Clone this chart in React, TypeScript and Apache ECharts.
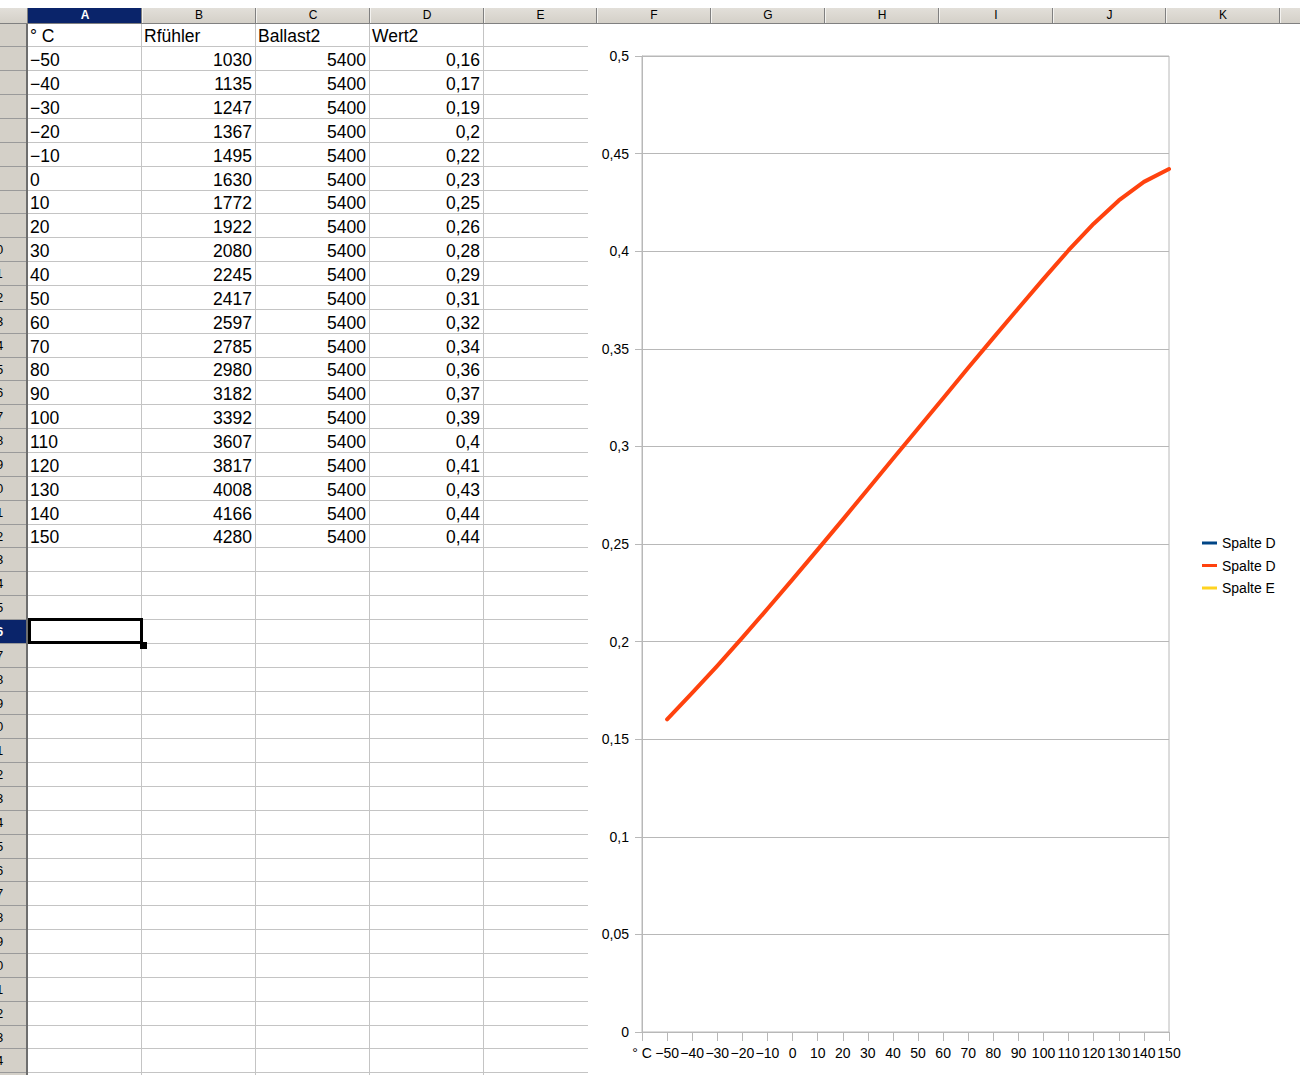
import React, { useEffect, useRef } from "react";
import * as echarts from "echarts";

// ---------- data ----------
const headerRow = ["° C", "Rfühler", "Ballast2", "Wert2"];
const tempLabels = ["−50", "−40", "−30", "−20", "−10", "0", "10", "20", "30", "40", "50", "60", "70", "80", "90", "100", "110", "120", "130", "140", "150"];
const rfuehler = [1030, 1135, 1247, 1367, 1495, 1630, 1772, 1922, 2080, 2245, 2417, 2597, 2785, 2980, 3182, 3392, 3607, 3817, 4008, 4166, 4280];
const ballast2 = [5400, 5400, 5400, 5400, 5400, 5400, 5400, 5400, 5400, 5400, 5400, 5400, 5400, 5400, 5400, 5400, 5400, 5400, 5400, 5400, 5400];
const wert2Text = ["0,16", "0,17", "0,19", "0,2", "0,22", "0,23", "0,25", "0,26", "0,28", "0,29", "0,31", "0,32", "0,34", "0,36", "0,37", "0,39", "0,4", "0,41", "0,43", "0,44", "0,44"];
const wert2Values = [0.1602, 0.1737, 0.1876, 0.202, 0.2168, 0.2319, 0.2471, 0.2625, 0.2781, 0.2937, 0.3092, 0.3247, 0.3403, 0.3556, 0.3708, 0.3858, 0.4005, 0.4141, 0.426, 0.4355, 0.4421];
const xCategories = ["° C", "−50", "−40", "−30", "−20", "−10", "0", "10", "20", "30", "40", "50", "60", "70", "80", "90", "100", "110", "120", "130", "140", "150"];
const lineData = [null, ...wert2Values];
const columnLetters = ["A", "B", "C", "D", "E", "F", "G", "H", "I", "J", "K", "L"];
const legendNames = ["Spalte D", "Spalte D", "Spalte E"];
const seriesColors = ["#004586", "#ff420e", "#ffd320"];

// ---------- layout ----------
const COL_X = [28, 142, 256, 370, 484, 597, 711, 825, 939, 1053, 1166, 1280, 1394];
const ROW_COUNT = 44;
const rowY = (i: number) => Math.round(23.5 + i * 23.86);
const FONT = '"Liberation Sans", Arial, sans-serif';
const GRID = "#c4c4c4";
const HEAD_BG = "#d4d0c8";
const SEL = "#0a246a";

function Chart() {
  const ref = useRef<HTMLDivElement>(null);
  useEffect(() => {
    if (!ref.current) return;
    const chart = echarts.init(ref.current, undefined, { renderer: "svg" });
    const keys = ["d1", "d2", "e1"];
    chart.setOption({
      animation: false,
      backgroundColor: "#ffffff",
      textStyle: { fontFamily: FONT },
      grid: { left: 54, right: 131, top: 32, bottom: 43, show: true, borderColor: "#b8b8b8", borderWidth: 1, containLabel: false },
      legend: {
        orient: "vertical",
        left: 614,
        top: 512,
        padding: 0,
        icon: "rect",
        itemWidth: 15,
        itemHeight: 3,
        itemGap: 8.5,
        selectedMode: false,
        data: keys,
        formatter: (name: string) => legendNames[keys.indexOf(name)],
        textStyle: { fontSize: 14, color: "#000", lineHeight: 14, fontFamily: FONT },
      },
      xAxis: {
        type: "category",
        data: xCategories,
        boundaryGap: false,
        axisLine: { show: true, lineStyle: { color: "#b8b8b8", width: 1 } },
        axisTick: { show: true, length: 9, inside: false, lineStyle: { color: "#b8b8b8" } },
        axisLabel: { interval: 0, fontSize: 14, color: "#000", margin: 14, fontFamily: FONT },
        splitLine: { show: false },
      },
      yAxis: {
        type: "value",
        min: 0,
        max: 0.5,
        interval: 0.05,
        axisLine: { show: true, lineStyle: { color: "#b8b8b8", width: 1 } },
        axisTick: { show: true, length: 7, inside: false, lineStyle: { color: "#b8b8b8" } },
        axisLabel: {
          fontSize: 14,
          color: "#000",
          margin: 13,
          fontFamily: FONT,
          formatter: (v: number) => (v === 0 ? "0" : String(+v.toFixed(2)).replace(".", ",")),
        },
        splitLine: { show: true, lineStyle: { color: "#b8b8b8", width: 1 } },
      },
      series: [
        { name: "d1", type: "line", data: [], showSymbol: false, itemStyle: { color: seriesColors[0] }, lineStyle: { color: seriesColors[0], width: 4 } },
        { name: "d2", type: "line", data: lineData, showSymbol: false, symbol: "none", itemStyle: { color: seriesColors[1] }, lineStyle: { color: seriesColors[1], width: 4, cap: "round", join: "round" } },
        { name: "e1", type: "line", data: [], showSymbol: false, itemStyle: { color: seriesColors[2] }, lineStyle: { color: seriesColors[2], width: 4 } },
      ],
    });
    return () => chart.dispose();
  }, []);
  return <div ref={ref} style={{ position: "absolute", left: 588, top: 24, width: 712, height: 1051 }} />;
}

function Sheet() {
  const els: React.ReactNode[] = [];
  // column header bar
  const headCells: React.ReactNode[] = [];
  for (let c = 0; c < columnLetters.length; c++) {
    const x0 = COL_X[c];
    const x1 = COL_X[c + 1];
    const selected = c === 0;
    headCells.push(
      <div key={"ch" + c} style={{ position: "absolute", left: x0, top: 0, width: x1 - x0, height: 16, background: selected ? SEL : "transparent" }}>
        {x1 <= 1300 ? (
          <div style={{ position: "absolute", left: 0, top: 1, width: x1 - x0, height: 12, lineHeight: "12px", textAlign: "center", fontSize: 12, color: selected ? "#fff" : "#000", fontWeight: selected ? "bold" : "normal" }}>
            {columnLetters[c]}
          </div>
        ) : null}
      </div>
    );
    headCells.push(<div key={"chs" + c} style={{ position: "absolute", left: x1 - 1, top: 0, width: 1, height: 16, background: "#808080" }} />);
    headCells.push(<div key={"chw" + c} style={{ position: "absolute", left: x1, top: 0, width: 1, height: 16, background: "#f4f3f0" }} />);
  }
  els.push(
    <div key="colhead" style={{ position: "absolute", left: 0, top: 8, width: 1300, height: 16, overflow: "hidden", background: "linear-gradient(#e2dfd9, " + HEAD_BG + ")", borderBottom: "1px solid #808080", boxSizing: "border-box" }}>
      <div style={{ position: "absolute", left: 27, top: 0, width: 1, height: 16, background: "#808080" }} />
      {headCells}
    </div>
  );

  // row header
  const rowCells: React.ReactNode[] = [];
  for (let r = 1; r <= ROW_COUNT; r++) {
    const y0 = rowY(r - 1) - 24;
    const y1 = rowY(r) - 24;
    const selected = r === 26;
    rowCells.push(
      <div key={"rh" + r} style={{ position: "absolute", left: 0, top: y0, width: 27, height: y1 - y0, background: selected ? SEL : "transparent", overflow: "hidden" }}>
        <div style={{ position: "absolute", left: -22, top: 0, width: 36, height: y1 - y0, lineHeight: y1 - y0 + "px", textAlign: "center", fontSize: 13, color: selected ? "#fff" : "#000", fontWeight: selected ? "bold" : "normal" }}>
          {String(r)}
        </div>
      </div>
    );
    rowCells.push(<div key={"rhl" + r} style={{ position: "absolute", left: 0, top: y1 - 1, width: 27, height: 1, background: "#9a9a9a" }} />);
  }
  els.push(
    <div key="rowhead" style={{ position: "absolute", left: 0, top: 24, width: 28, height: 1051, overflow: "hidden", background: HEAD_BG }}>
      {rowCells}
      <div style={{ position: "absolute", left: 26, top: 0, width: 2, height: 1051, background: "#6e6e6e" }} />
    </div>
  );

  // grid lines
  for (let i = 1; i <= ROW_COUNT; i++) {
    els.push(<div key={"hl" + i} style={{ position: "absolute", left: 28, top: rowY(i) - 1, width: 588 - 28, height: 1, background: GRID }} />);
  }
  for (let c = 1; c <= 4; c++) {
    els.push(<div key={"vl" + c} style={{ position: "absolute", left: COL_X[c] - 1, top: 24, width: 1, height: 1051, background: GRID }} />);
  }

  // cell texts
  const cellText = (key: string, row: number, col: number, text: string, right: boolean) => {
    const y0 = rowY(row - 1);
    const y1 = rowY(row);
    const x0 = COL_X[col];
    const x1 = COL_X[col + 1];
    return (
      <div key={key} style={{ position: "absolute", left: x0 + 2, top: y0 + 1, width: x1 - x0 - 6, height: y1 - y0, lineHeight: y1 - y0 + "px", fontSize: 17.5, color: "#000", textAlign: right ? "right" : "left", whiteSpace: "nowrap" }}>
        {text}
      </div>
    );
  };
  headerRow.forEach((t, c) => els.push(cellText("h" + c, 1, c, t, false)));
  tempLabels.forEach((t, i) => {
    els.push(cellText("a" + i, i + 2, 0, t, false));
    els.push(cellText("b" + i, i + 2, 1, String(rfuehler[i]), true));
    els.push(cellText("c" + i, i + 2, 2, String(ballast2[i]), true));
    els.push(cellText("d" + i, i + 2, 3, wert2Text[i], true));
  });

  // selected cell A26
  const sy0 = rowY(25);
  const sy1 = rowY(26);
  els.push(<div key="sel" style={{ position: "absolute", left: 28, top: sy0 - 2, width: 143 - 28, height: sy1 - sy0 + 2, border: "3px solid #000", boxSizing: "border-box" }} />);
  els.push(<div key="selh" style={{ position: "absolute", left: 140, top: sy1 - 2, width: 7, height: 7, background: "#000" }} />);

  return <>{els}</>;
}

export default function App() {
  return (
    <div style={{ position: "absolute", left: 0, top: 0, width: 1300, height: 1075, overflow: "hidden", background: "#ffffff", fontFamily: FONT }}>
      <Sheet />
      <Chart />
    </div>
  );
}
